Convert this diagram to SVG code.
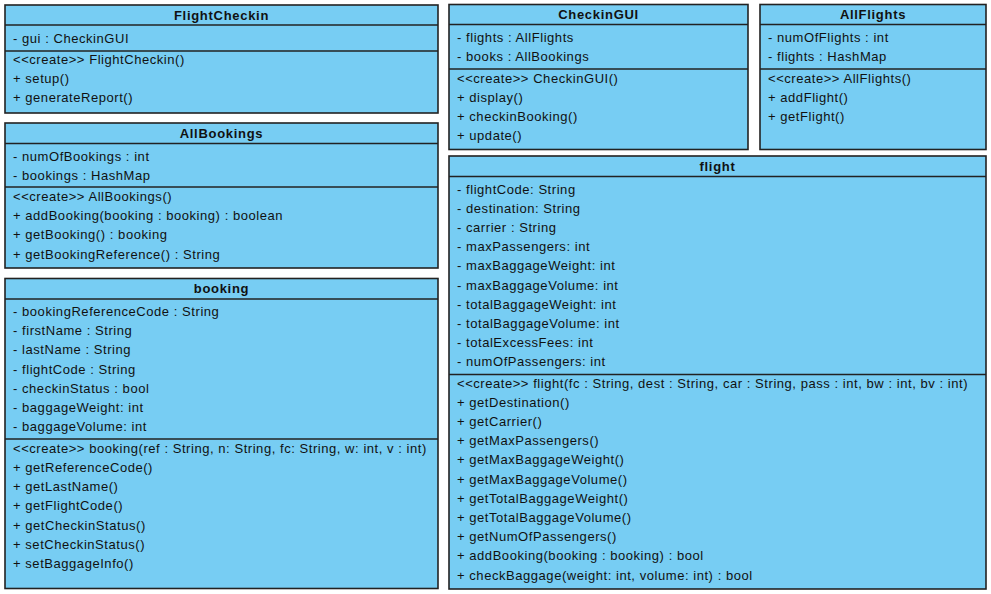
<svg xmlns="http://www.w3.org/2000/svg" width="991" height="594" viewBox="0 0 991 594">
<style>
.box{fill:#77cdf3;stroke:#222;stroke-width:1.6}
.div{stroke:#222;stroke-width:1.6}
text{font-family:"Liberation Sans",Arial,sans-serif;font-size:13px;fill:#111;letter-spacing:0.55px}
.t{font-weight:bold;text-anchor:middle;letter-spacing:0.7px}
</style>
<rect width="991" height="594" fill="#fff"/>
<g id="FlightCheckin">
<rect class="box" x="5" y="5" width="433" height="108"/>
<line class="div" x1="5" y1="25" x2="438" y2="25"/>
<line class="div" x1="5" y1="51" x2="438" y2="51"/>
<text class="t" x="221.5" y="19.5">FlightCheckin</text>
<text x="13" y="43">- gui : CheckinGUI</text>
<text x="13" y="64">&lt;&lt;create&gt;&gt; FlightCheckin()</text>
<text x="13" y="83.2">+ setup()</text>
<text x="13" y="102.4">+ generateReport()</text>
</g>
<g id="AllBookings">
<rect class="box" x="5" y="123" width="433" height="145"/>
<line class="div" x1="5" y1="143.5" x2="438" y2="143.5"/>
<line class="div" x1="5" y1="187" x2="438" y2="187"/>
<text class="t" x="221.5" y="137.5">AllBookings</text>
<text x="13" y="160.5">- numOfBookings : int</text>
<text x="13" y="179.7">- bookings : HashMap</text>
<text x="13" y="201">&lt;&lt;create&gt;&gt; AllBookings()</text>
<text x="13" y="220.2">+ addBooking(booking : booking) : boolean</text>
<text x="13" y="239.4">+ getBooking() : booking</text>
<text x="13" y="258.6">+ getBookingReference() : String</text>
</g>
<g id="booking">
<rect class="box" x="5" y="278.5" width="433" height="310"/>
<line class="div" x1="5" y1="299" x2="438" y2="299"/>
<line class="div" x1="5" y1="439" x2="438" y2="439"/>
<text class="t" x="221.5" y="293">booking</text>
<text x="13" y="316">- bookingReferenceCode : String</text>
<text x="13" y="335.2">- firstName : String</text>
<text x="13" y="354.4">- lastName : String</text>
<text x="13" y="373.6">- flightCode : String</text>
<text x="13" y="392.8">- checkinStatus : bool</text>
<text x="13" y="412">- baggageWeight: int</text>
<text x="13" y="431.2">- baggageVolume: int</text>
<text x="13" y="452.8">&lt;&lt;create&gt;&gt; booking(ref : String, n: String, fc: String, w: int, v : int)</text>
<text x="13" y="472">+ getReferenceCode()</text>
<text x="13" y="491.2">+ getLastName()</text>
<text x="13" y="510.4">+ getFlightCode()</text>
<text x="13" y="529.6">+ getCheckinStatus()</text>
<text x="13" y="548.8">+ setCheckinStatus()</text>
<text x="13" y="568">+ setBaggageInfo()</text>
</g>
<g id="CheckinGUI">
<rect class="box" x="449" y="4.5" width="299" height="145"/>
<line class="div" x1="449" y1="24.5" x2="748" y2="24.5"/>
<line class="div" x1="449" y1="69" x2="748" y2="69"/>
<text class="t" x="598.5" y="19">CheckinGUI</text>
<text x="457" y="41.5">- flights : AllFlights</text>
<text x="457" y="60.7">- books : AllBookings</text>
<text x="457" y="82.5">&lt;&lt;create&gt;&gt; CheckinGUI()</text>
<text x="457" y="101.7">+ display()</text>
<text x="457" y="120.9">+ checkinBooking()</text>
<text x="457" y="140.1">+ update()</text>
</g>
<g id="AllFlights">
<rect class="box" x="760" y="4.5" width="226" height="145"/>
<line class="div" x1="760" y1="24.5" x2="986" y2="24.5"/>
<line class="div" x1="760" y1="69" x2="986" y2="69"/>
<text class="t" x="873" y="19">AllFlights</text>
<text x="768" y="41.5">- numOfFlights : int</text>
<text x="768" y="60.7">- flights : HashMap</text>
<text x="768" y="82.5">&lt;&lt;create&gt;&gt; AllFlights()</text>
<text x="768" y="101.7">+ addFlight()</text>
<text x="768" y="120.9">+ getFlight()</text>
</g>
<g id="flight">
<rect class="box" x="449" y="156" width="537" height="433"/>
<line class="div" x1="449" y1="176.5" x2="986" y2="176.5"/>
<line class="div" x1="449" y1="374.5" x2="986" y2="374.5"/>
<text class="t" x="717.5" y="171">flight</text>
<text x="457" y="193.5">- flightCode: String</text>
<text x="457" y="212.7">- destination: String</text>
<text x="457" y="231.9">- carrier : String</text>
<text x="457" y="251.1">- maxPassengers: int</text>
<text x="457" y="270.3">- maxBaggageWeight: int</text>
<text x="457" y="289.5">- maxBaggageVolume: int</text>
<text x="457" y="308.7">- totalBaggageWeight: int</text>
<text x="457" y="327.9">- totalBaggageVolume: int</text>
<text x="457" y="347.1">- totalExcessFees: int</text>
<text x="457" y="366.3">- numOfPassengers: int</text>
<text x="457" y="387.5">&lt;&lt;create&gt;&gt; flight(fc : String, dest : String, car : String, pass : int, bw : int, bv : int)</text>
<text x="457" y="406.7">+ getDestination()</text>
<text x="457" y="425.9">+ getCarrier()</text>
<text x="457" y="445.1">+ getMaxPassengers()</text>
<text x="457" y="464.3">+ getMaxBaggageWeight()</text>
<text x="457" y="483.5">+ getMaxBaggageVolume()</text>
<text x="457" y="502.7">+ getTotalBaggageWeight()</text>
<text x="457" y="521.9">+ getTotalBaggageVolume()</text>
<text x="457" y="541.1">+ getNumOfPassengers()</text>
<text x="457" y="560.3">+ addBooking(booking : booking) : bool</text>
<text x="457" y="579.5">+ checkBaggage(weight: int, volume: int) : bool</text>
</g>
<g id="connectors"/>
</svg>
